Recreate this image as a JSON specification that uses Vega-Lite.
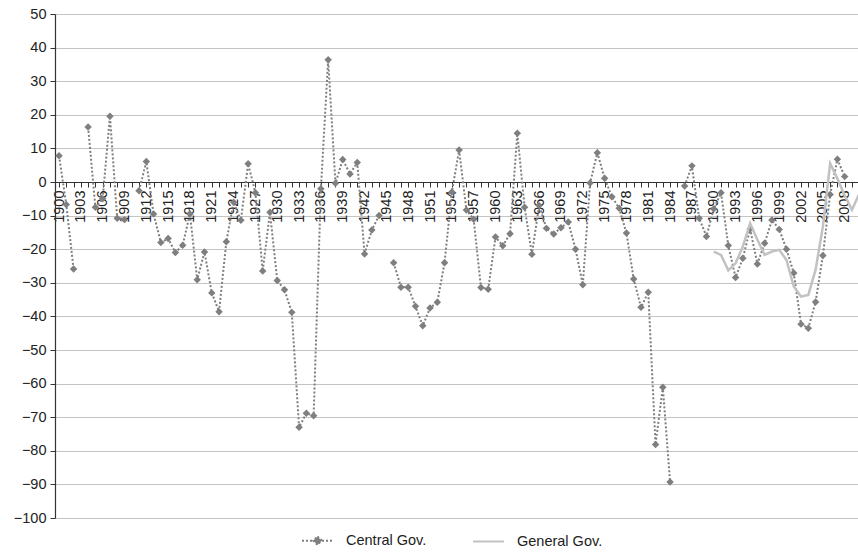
{
  "$schema": "https://vega.github.io/schema/vega-lite/v6.json",
  "width": 803,
  "height": 504,
  "autosize": {"type": "none"},
  "padding": {"left": 55, "top": 14, "right": 0, "bottom": 34},
  "background": "white",
  "config": {
    "view": {"stroke": null},
    "font": "Liberation Sans",
    "axis": {"labelFont": "Liberation Sans", "labelColor": "#222222", "labelFontSize": 14.5, "domainColor": "#333333", "tickColor": "#333333", "title": null}
  },
  "data": {
    "values": [
      {"year": 1900, "series": "Central Gov.", "value": 7.8},
      {"year": 1901, "series": "Central Gov.", "value": -6.7},
      {"year": 1902, "series": "Central Gov.", "value": -25.9},
      {"year": 1903, "series": "Central Gov.", "value": null},
      {"year": 1904, "series": "Central Gov.", "value": 16.4},
      {"year": 1905, "series": "Central Gov.", "value": -7.5},
      {"year": 1906, "series": "Central Gov.", "value": -5},
      {"year": 1907, "series": "Central Gov.", "value": 19.6},
      {"year": 1908, "series": "Central Gov.", "value": -10.8},
      {"year": 1909, "series": "Central Gov.", "value": -11.2},
      {"year": 1910, "series": "Central Gov.", "value": null},
      {"year": 1911, "series": "Central Gov.", "value": -2.6},
      {"year": 1912, "series": "Central Gov.", "value": 6.1},
      {"year": 1913, "series": "Central Gov.", "value": -9.5},
      {"year": 1914, "series": "Central Gov.", "value": -18.0},
      {"year": 1915, "series": "Central Gov.", "value": -16.8},
      {"year": 1916, "series": "Central Gov.", "value": -21.0},
      {"year": 1917, "series": "Central Gov.", "value": -18.8},
      {"year": 1918, "series": "Central Gov.", "value": -9.5},
      {"year": 1919, "series": "Central Gov.", "value": -29.1},
      {"year": 1920, "series": "Central Gov.", "value": -20.8},
      {"year": 1921, "series": "Central Gov.", "value": -33.0},
      {"year": 1922, "series": "Central Gov.", "value": -38.6},
      {"year": 1923, "series": "Central Gov.", "value": -17.8},
      {"year": 1924, "series": "Central Gov.", "value": -6},
      {"year": 1925, "series": "Central Gov.", "value": -11.4},
      {"year": 1926, "series": "Central Gov.", "value": 5.4},
      {"year": 1927, "series": "Central Gov.", "value": -3.2},
      {"year": 1928, "series": "Central Gov.", "value": -26.5},
      {"year": 1929, "series": "Central Gov.", "value": -9.0},
      {"year": 1930, "series": "Central Gov.", "value": -29.3},
      {"year": 1931, "series": "Central Gov.", "value": -32.1},
      {"year": 1932, "series": "Central Gov.", "value": -38.8},
      {"year": 1933, "series": "Central Gov.", "value": -73.0},
      {"year": 1934, "series": "Central Gov.", "value": -68.8},
      {"year": 1935, "series": "Central Gov.", "value": -69.6},
      {"year": 1936, "series": "Central Gov.", "value": -2},
      {"year": 1937, "series": "Central Gov.", "value": 36.4},
      {"year": 1938, "series": "Central Gov.", "value": -0.4},
      {"year": 1939, "series": "Central Gov.", "value": 6.7},
      {"year": 1940, "series": "Central Gov.", "value": 2.4},
      {"year": 1941, "series": "Central Gov.", "value": 5.8},
      {"year": 1942, "series": "Central Gov.", "value": -21.4},
      {"year": 1943, "series": "Central Gov.", "value": -14.3},
      {"year": 1944, "series": "Central Gov.", "value": -10.0},
      {"year": 1945, "series": "Central Gov.", "value": null},
      {"year": 1946, "series": "Central Gov.", "value": -24.0},
      {"year": 1947, "series": "Central Gov.", "value": -31.3},
      {"year": 1948, "series": "Central Gov.", "value": -31.3},
      {"year": 1949, "series": "Central Gov.", "value": -37.0},
      {"year": 1950, "series": "Central Gov.", "value": -42.8},
      {"year": 1951, "series": "Central Gov.", "value": -37.5},
      {"year": 1952, "series": "Central Gov.", "value": -35.8},
      {"year": 1953, "series": "Central Gov.", "value": -24.0},
      {"year": 1954, "series": "Central Gov.", "value": -3},
      {"year": 1955, "series": "Central Gov.", "value": 9.5},
      {"year": 1956, "series": "Central Gov.", "value": -8.3},
      {"year": 1957, "series": "Central Gov.", "value": -11.1},
      {"year": 1958, "series": "Central Gov.", "value": -31.4},
      {"year": 1959, "series": "Central Gov.", "value": -31.9},
      {"year": 1960, "series": "Central Gov.", "value": -16.4},
      {"year": 1961, "series": "Central Gov.", "value": -19.0},
      {"year": 1962, "series": "Central Gov.", "value": -15.4},
      {"year": 1963, "series": "Central Gov.", "value": 14.5},
      {"year": 1964, "series": "Central Gov.", "value": -7.5},
      {"year": 1965, "series": "Central Gov.", "value": -21.5},
      {"year": 1966, "series": "Central Gov.", "value": -7},
      {"year": 1967, "series": "Central Gov.", "value": -13.8},
      {"year": 1968, "series": "Central Gov.", "value": -15.5},
      {"year": 1969, "series": "Central Gov.", "value": -13.6},
      {"year": 1970, "series": "Central Gov.", "value": -11.9},
      {"year": 1971, "series": "Central Gov.", "value": -20.0},
      {"year": 1972, "series": "Central Gov.", "value": -30.6},
      {"year": 1973, "series": "Central Gov.", "value": -0.3},
      {"year": 1974, "series": "Central Gov.", "value": 8.7},
      {"year": 1975, "series": "Central Gov.", "value": 1.1},
      {"year": 1976, "series": "Central Gov.", "value": -4.4},
      {"year": 1977, "series": "Central Gov.", "value": -7.8},
      {"year": 1978, "series": "Central Gov.", "value": -15.2},
      {"year": 1979, "series": "Central Gov.", "value": -28.9},
      {"year": 1980, "series": "Central Gov.", "value": -37.3},
      {"year": 1981, "series": "Central Gov.", "value": -32.8},
      {"year": 1982, "series": "Central Gov.", "value": -78.1},
      {"year": 1983, "series": "Central Gov.", "value": -61.1},
      {"year": 1984, "series": "Central Gov.", "value": -89.3},
      {"year": 1985, "series": "Central Gov.", "value": null},
      {"year": 1986, "series": "Central Gov.", "value": -1.2},
      {"year": 1987, "series": "Central Gov.", "value": 4.8},
      {"year": 1988, "series": "Central Gov.", "value": -10.8},
      {"year": 1989, "series": "Central Gov.", "value": -16.2},
      {"year": 1990, "series": "Central Gov.", "value": -8},
      {"year": 1991, "series": "Central Gov.", "value": -3.2},
      {"year": 1992, "series": "Central Gov.", "value": -18.9},
      {"year": 1993, "series": "Central Gov.", "value": -28.4},
      {"year": 1994, "series": "Central Gov.", "value": -22.7},
      {"year": 1995, "series": "Central Gov.", "value": -14},
      {"year": 1996, "series": "Central Gov.", "value": -24.4},
      {"year": 1997, "series": "Central Gov.", "value": -18.2},
      {"year": 1998, "series": "Central Gov.", "value": -11.3},
      {"year": 1999, "series": "Central Gov.", "value": -14.1},
      {"year": 2000, "series": "Central Gov.", "value": -20.0},
      {"year": 2001, "series": "Central Gov.", "value": -27.1},
      {"year": 2002, "series": "Central Gov.", "value": -42.3},
      {"year": 2003, "series": "Central Gov.", "value": -43.5},
      {"year": 2004, "series": "Central Gov.", "value": -35.7},
      {"year": 2005, "series": "Central Gov.", "value": -21.9},
      {"year": 2006, "series": "Central Gov.", "value": -3.7},
      {"year": 2007, "series": "Central Gov.", "value": 6.8},
      {"year": 2008, "series": "Central Gov.", "value": 1.6},
      {"year": 1990, "series": "General Gov.", "value": -20.7},
      {"year": 1991, "series": "General Gov.", "value": -21.7},
      {"year": 1992, "series": "General Gov.", "value": -26.3},
      {"year": 1993, "series": "General Gov.", "value": -24.2},
      {"year": 1994, "series": "General Gov.", "value": -19.2},
      {"year": 1995, "series": "General Gov.", "value": -12.3},
      {"year": 1996, "series": "General Gov.", "value": -17.2},
      {"year": 1997, "series": "General Gov.", "value": -21.7},
      {"year": 1998, "series": "General Gov.", "value": -20.7},
      {"year": 1999, "series": "General Gov.", "value": -20.2},
      {"year": 2000, "series": "General Gov.", "value": -23.2},
      {"year": 2001, "series": "General Gov.", "value": -31.1},
      {"year": 2002, "series": "General Gov.", "value": -34.1},
      {"year": 2003, "series": "General Gov.", "value": -33.6},
      {"year": 2004, "series": "General Gov.", "value": -26.1},
      {"year": 2005, "series": "General Gov.", "value": -13.3},
      {"year": 2006, "series": "General Gov.", "value": 5.5},
      {"year": 2007, "series": "General Gov.", "value": 1.0},
      {"year": 2008, "series": "General Gov.", "value": -4.0},
      {"year": 2009, "series": "General Gov.", "value": -8.3},
      {"year": 2010, "series": "General Gov.", "value": -3.5}
    ]
  },
  "encoding": {
    "x": {
      "field": "year",
      "type": "quantitative",
      "scale": {"domain": [1899.45, 2009.83], "nice": false, "zero": false},
      "axis": {
        "orient": "bottom",
        "offset": -336,
        "tickCount": 110,
        "tickMinStep": 1,
        "format": "d",
        "labelExpr": "datum.value % 3 == 1 ? datum.label : ''",
        "labelAngle": -90,
        "labelOverlap": false,
        "labelPadding": 3,
        "tickSize": 5,
        "grid": false,
        "domainWidth": 1.2
      }
    },
    "y": {
      "field": "value",
      "type": "quantitative",
      "scale": {"domain": [-100, 50], "nice": false},
      "axis": {
        "tickCount": 15,
        "format": "d",
        "grid": true,
        "gridColor": "#c4c4c4",
        "gridWidth": 1.2,
        "tickSize": 5,
        "labelPadding": 4,
        "domainWidth": 1.2
      }
    }
  },
  "layer": [
    {
      "transform": [{"filter": "datum.series == 'Central Gov.'"}],
      "mark": {"type": "line", "strokeWidth": 2, "strokeDash": [2, 2], "clip": true, "invalid": "break-paths-filter-domains"},
      "encoding": {
        "color": {
          "field": "series",
          "type": "nominal",
          "scale": {"domain": ["Central Gov.", "General Gov."], "range": ["#7f7f7f", "#c2c2c2"]},
          "legend": {
            "orient": "none",
            "legendX": 246,
            "legendY": 510,
            "direction": "horizontal",
            "title": null,
            "padding": 0,
            "symbolSize": 961,
            "symbolStrokeWidth": 2,
            "labelFontSize": 14.5,
            "labelFont": "Liberation Sans",
            "labelColor": "#222222",
            "labelOffset": 12,
            "columnPadding": 42,
            "encode": {
              "symbols": {
                "update": {
                  "shape": {"signal": "datum.value == 'Central Gov.' ? 'M-1,0L1,0M0,-0.27L0.27,0L0,0.27L-0.27,0Z' : 'M-1,0L1,0'"},
                  "fill": {"signal": "datum.value == 'Central Gov.' ? '#7f7f7f' : 'transparent'"},
                  "stroke": {"signal": "datum.value == 'Central Gov.' ? '#7f7f7f' : '#c2c2c2'"},
                  "strokeDash": {"signal": "datum.value == 'Central Gov.' ? [2, 2] : [1, 0]"},
                  "strokeWidth": {"value": 2}
                }
              }
            }
          }
        }
      }
    },
    {
      "transform": [{"filter": "datum.series == 'Central Gov.' && datum.value != null"}],
      "mark": {"type": "point", "shape": "diamond", "filled": true, "size": 56, "opacity": 1, "color": "#7f7f7f", "clip": true},
      "encoding": {}
    },
    {
      "transform": [{"filter": "datum.series == 'General Gov.'"}],
      "mark": {"type": "line", "strokeWidth": 2.5, "clip": true},
      "encoding": {
        "color": {"field": "series", "type": "nominal"}
      }
    }
  ]
}
